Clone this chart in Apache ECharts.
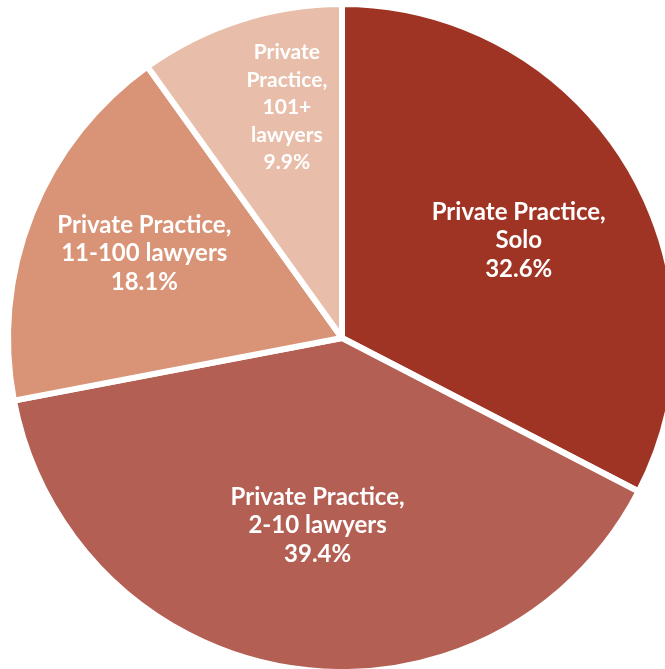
<!DOCTYPE html>
<html>
<head>
<meta charset="utf-8">
<script src="https://cdn.jsdelivr.net/npm/echarts@6/dist/echarts.min.js"></script>
<style>
  html, body { margin: 0; padding: 0; background: #fff; }
  #chart { width: 665px; height: 669px; }
</style>
</head>
<body>
<div id="chart"></div>
<script>
// slices, clockwise from 12 o'clock
const categories = [
  'Private Practice,\nSolo',
  'Private Practice,\n2-10 lawyers',
  'Private Practice,\n11-100 lawyers',
  'Private\nPractice,\n101+\nlawyers'
];
const shares = [32.6, 39.4, 18.1, 9.9];
const colors = ['#a03424', '#b35f53', '#d99376', '#e8beaa'];
// label spot: fraction of radius and angle (deg, clockwise from top)
const labelRatio = [0.595, 0.557, 0.635, 0.70];
const labelAngle = [61.2, 187.4, 293.2, 346.6];

const R = 334;
const total = shares.reduce((a, b) => a + b, 0);
const midAngles = [];
let acc = 0;
shares.forEach(function (v) {
  midAngles.push((acc + v / 2) / total * Math.PI * 2);
  acc += v;
});

const chart = echarts.init(document.getElementById('chart'));
chart.setOption({
  backgroundColor: '#fff',
  animation: false,
  series: [{
    type: 'pie',
    center: [342, 338],
    radius: [0, R],
    startAngle: 90,
    clockwise: true,
    avoidLabelOverlap: false,
    itemStyle: { borderColor: '#fff', borderWidth: 6 },
    label: {
      show: true,
      position: 'inner',
      color: '#fff',
      fontFamily: 'Lato',
      fontWeight: 'bold',
      fontSize: 24,
      lineHeight: 28.5,
      formatter: function (p) { return p.name + '\n' + p.value.toFixed(1) + '%'; }
    },
    labelLine: { show: false },
    labelLayout: function (p) {
      const i = p.dataIndex;
      const a = labelAngle[i] * Math.PI / 180;
      const r = labelRatio[i] * R;
      return {
        dx: r * Math.sin(a) - R / 2 * Math.sin(midAngles[i]),
        dy: -r * Math.cos(a) + R / 2 * Math.cos(midAngles[i])
      };
    },
    emphasis: { disabled: true },
    data: categories.map(function (c, i) {
      const item = { name: c, value: shares[i], itemStyle: { color: colors[i] } };
      if (i === 3) item.label = { fontSize: 21, lineHeight: 27.5 };
      return item;
    })
  }]
});
</script>
</body>
</html>
